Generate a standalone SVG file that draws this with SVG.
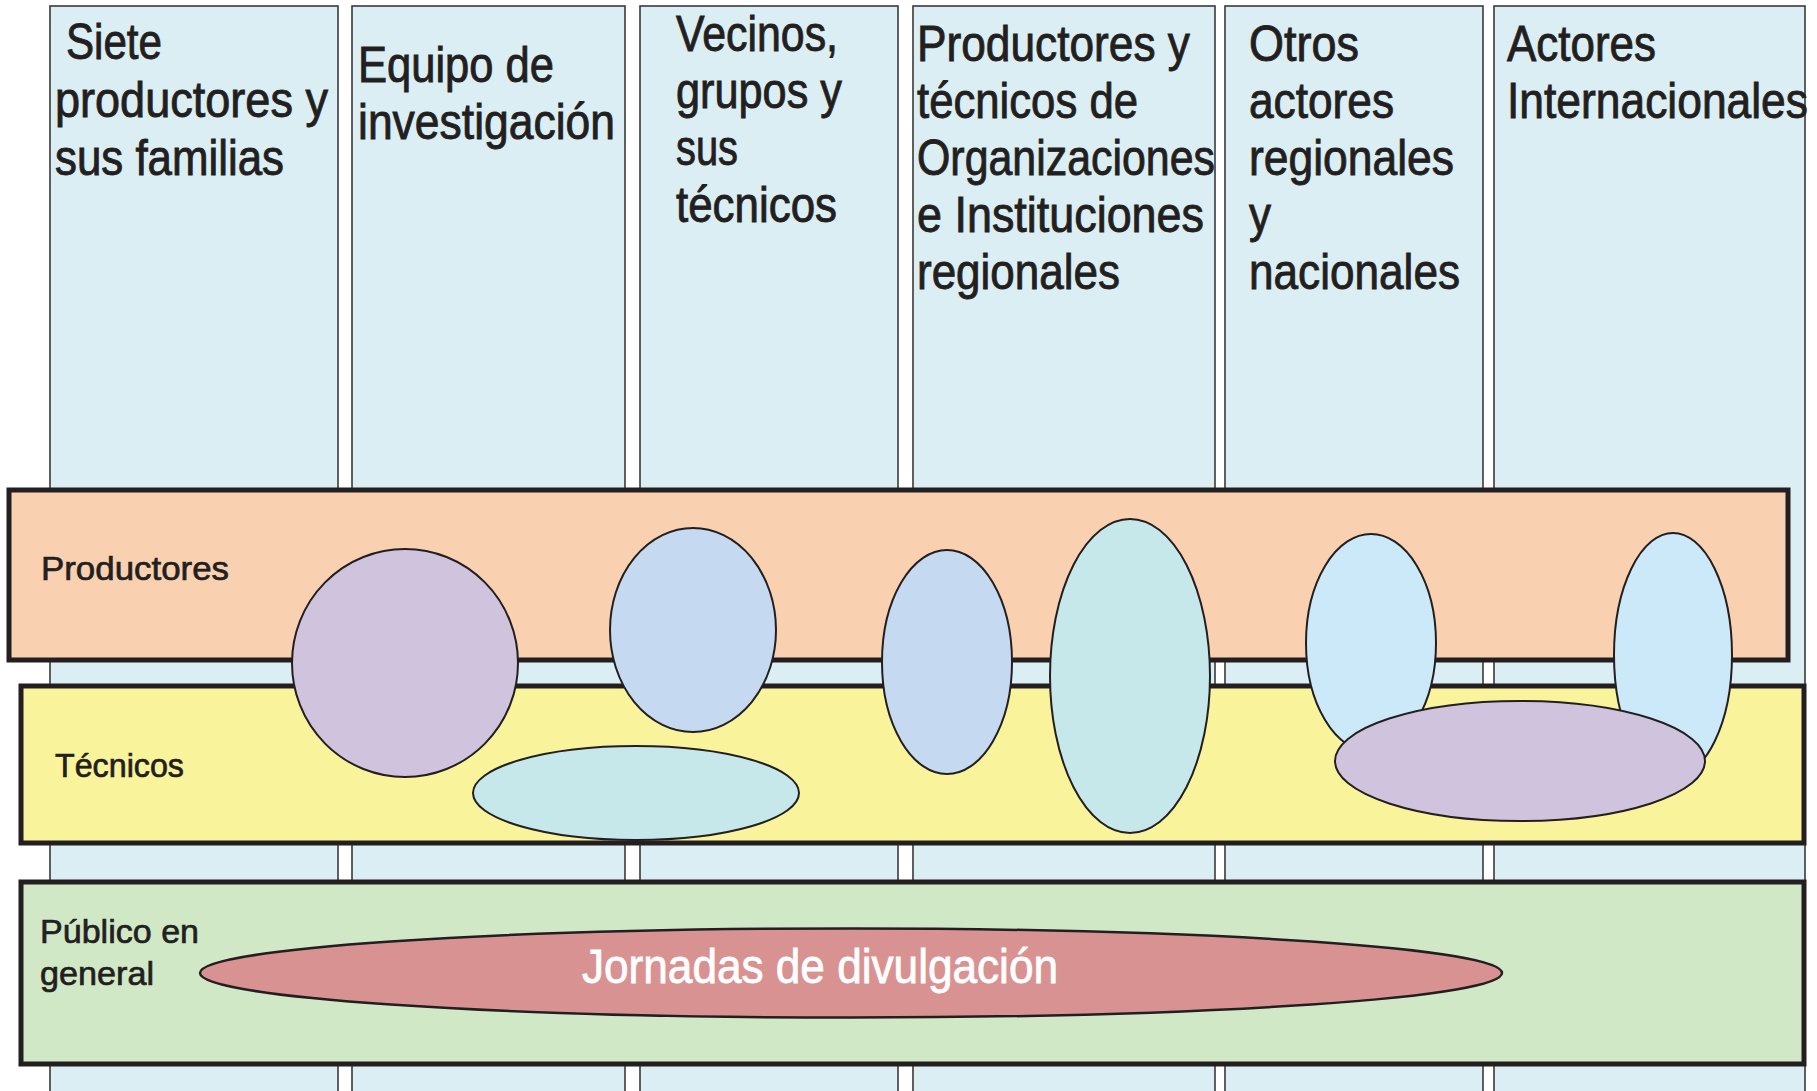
<svg xmlns="http://www.w3.org/2000/svg" width="1817" height="1091" viewBox="0 0 1817 1091">
<style>
.col{fill:#daeef3;stroke:#3a3a3a;stroke-width:1.6}
.hd{font-family:"Liberation Sans Narrow","Liberation Sans",Arial,sans-serif;font-size:50px;fill:#231f20;stroke:#231f20;stroke-width:0.9}
.lane{stroke:#231f20;stroke-width:5}
.lb{font-family:"Liberation Sans Narrow","Liberation Sans",Arial,sans-serif;font-size:34px;fill:#231f20;stroke:#231f20;stroke-width:0.7}
.el{stroke:#231f20;stroke-width:2}
.pur{fill:#d0c3dd}.blu{fill:#c5d9f0}.cya{fill:#c7e8ea}.lbl{fill:#cbe9f9}
.jt{font-family:"Liberation Sans Narrow","Liberation Sans",Arial,sans-serif;font-size:48px;fill:#ffffff;stroke:#ffffff;stroke-width:0.8}
</style>
<rect x="0" y="0" width="1817" height="1091" fill="#ffffff"/>
<g id="columns">
<g id="col-siete">
<rect class="col" x="50" y="6" width="288" height="1100"/>
<text class="hd" x="66" y="59" textLength="96" lengthAdjust="spacingAndGlyphs">Siete</text>
<text class="hd" x="55" y="117" textLength="273" lengthAdjust="spacingAndGlyphs">productores y</text>
<text class="hd" x="55" y="175" textLength="229" lengthAdjust="spacingAndGlyphs">sus familias</text>
</g>
<g id="col-equipo">
<rect class="col" x="352" y="6" width="273" height="1100"/>
<text class="hd" x="358" y="82" textLength="196" lengthAdjust="spacingAndGlyphs">Equipo de</text>
<text class="hd" x="358" y="139" textLength="257" lengthAdjust="spacingAndGlyphs">investigación</text>
</g>
<g id="col-vecinos">
<rect class="col" x="640" y="6" width="258" height="1100"/>
<text class="hd" x="676" y="51" textLength="162" lengthAdjust="spacingAndGlyphs">Vecinos,</text>
<text class="hd" x="676" y="108" textLength="166" lengthAdjust="spacingAndGlyphs">grupos y</text>
<text class="hd" x="676" y="165" textLength="62" lengthAdjust="spacingAndGlyphs">sus</text>
<text class="hd" x="676" y="222" textLength="161" lengthAdjust="spacingAndGlyphs">técnicos</text>
</g>
<g id="col-organizaciones">
<rect class="col" x="913" y="6" width="302" height="1100"/>
<text class="hd" x="917" y="61" textLength="273" lengthAdjust="spacingAndGlyphs">Productores y</text>
<text class="hd" x="917" y="118" textLength="221" lengthAdjust="spacingAndGlyphs">técnicos de</text>
<text class="hd" x="917" y="175" textLength="298" lengthAdjust="spacingAndGlyphs">Organizaciones</text>
<text class="hd" x="917" y="232" textLength="287" lengthAdjust="spacingAndGlyphs">e Instituciones</text>
<text class="hd" x="917" y="289" textLength="203" lengthAdjust="spacingAndGlyphs">regionales</text>
</g>
<g id="col-otros">
<rect class="col" x="1225" y="6" width="258" height="1100"/>
<text class="hd" x="1249" y="61" textLength="110" lengthAdjust="spacingAndGlyphs">Otros</text>
<text class="hd" x="1249" y="118" textLength="145" lengthAdjust="spacingAndGlyphs">actores</text>
<text class="hd" x="1249" y="175" textLength="205" lengthAdjust="spacingAndGlyphs">regionales</text>
<text class="hd" x="1249" y="232" textLength="22" lengthAdjust="spacingAndGlyphs">y</text>
<text class="hd" x="1249" y="289" textLength="211" lengthAdjust="spacingAndGlyphs">nacionales</text>
</g>
<g id="col-internacionales">
<rect class="col" x="1494" y="6" width="311" height="1100"/>
<text class="hd" x="1507" y="61" textLength="149" lengthAdjust="spacingAndGlyphs">Actores</text>
<text class="hd" x="1507" y="118" textLength="301" lengthAdjust="spacingAndGlyphs">Internacionales</text>
</g>
</g>
<g id="lanes">
<g id="lane-productores">
<rect class="lane" x="9" y="490" width="1779" height="170" fill="#f9d1b1"/>
<text class="lb" x="41" y="580" textLength="188" lengthAdjust="spacingAndGlyphs">Productores</text>
</g>
<g id="lane-tecnicos">
<rect class="lane" x="21" y="686" width="1783" height="157" fill="#f9f39b"/>
<text class="lb" x="55" y="777" textLength="129" lengthAdjust="spacingAndGlyphs">Técnicos</text>
</g>
<g id="lane-publico">
<rect class="lane" x="21" y="882" width="1783" height="182" fill="#d1e8c7"/>
<text class="lb" x="40" y="943" textLength="159" lengthAdjust="spacingAndGlyphs">Público en</text>
<text class="lb" x="40" y="985" textLength="114" lengthAdjust="spacingAndGlyphs">general</text>
</g>
</g>
<g id="ellipses">
<g id="e1"><ellipse class="el pur" cx="405" cy="663" rx="113" ry="114"/></g>
<g id="e2"><ellipse class="el blu" cx="693" cy="630" rx="83" ry="102"/></g>
<g id="e3"><ellipse class="el cya" cx="636" cy="793" rx="163" ry="47"/></g>
<g id="e4"><ellipse class="el blu" cx="947" cy="662" rx="65" ry="112"/></g>
<g id="e5"><ellipse class="el cya" cx="1130" cy="676" rx="80" ry="157"/></g>
<g id="e6"><ellipse class="el lbl" cx="1371" cy="643" rx="65" ry="109"/></g>
<g id="e7"><ellipse class="el lbl" cx="1673" cy="655" rx="59" ry="122"/></g>
<g id="e8"><ellipse class="el pur" cx="1520" cy="761" rx="185" ry="60"/></g>
<g id="jornadas">
<ellipse cx="851" cy="973" rx="651" ry="44.5" fill="#d99292" stroke="#231f20" stroke-width="2.5"/>
<text class="jt" x="582" y="983" textLength="476" lengthAdjust="spacingAndGlyphs">Jornadas de divulgación</text>
</g>
</g>
</svg>
